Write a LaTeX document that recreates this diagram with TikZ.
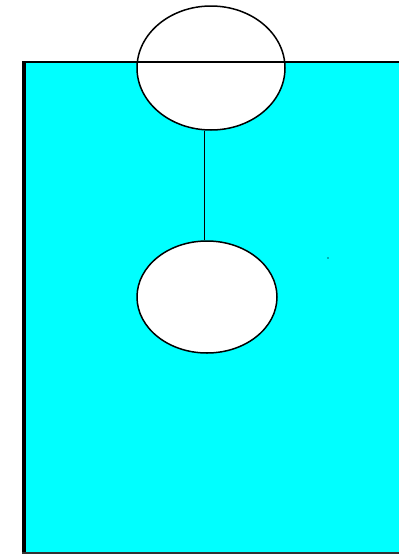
\documentclass[tikz,border=0pt]{standalone}
\usetikzlibrary{shapes.geometric}
\definecolor{tank}{RGB}{0,255,255}
\begin{document}
\begin{tikzpicture}[
  x=1pt, y=-1pt,
  bubble/.style={
    ellipse,
    draw=black,
    line width=1.5pt,
    fill=white,
    inner sep=0pt
  },
  rim/.style={draw=black, line width=1.5pt}
]
\useasboundingbox (0,0) rectangle (399,557);

% water body
\fill[tank] (22,62) rectangle (399,553);
\coordinate (tl) at (22,62);
\coordinate (tr) at (399,62);
\coordinate (bl) at (22,553);
\coordinate (br) at (399,553);

\node[bubble, minimum width=148pt, minimum height=124pt] (upper) at (211,68) {};
\node[bubble, minimum width=140pt, minimum height=112pt] (lower) at (207,297) {};

\draw[rim] ([xshift=-2.5pt]lower.north |- upper.south) -- ([xshift=-2.5pt]lower.north);

% frame
\draw[rim] (tl) -- (tr);
\draw[draw=black, line width=3.5pt] ([xshift=1.75pt]tl) -- ([xshift=1.75pt]bl);
\draw[draw=black!80, line width=1.5pt] (bl) -- (br);

\fill[tank!40!black] (328,258) circle (0.8pt);
\end{tikzpicture}
\end{document}
